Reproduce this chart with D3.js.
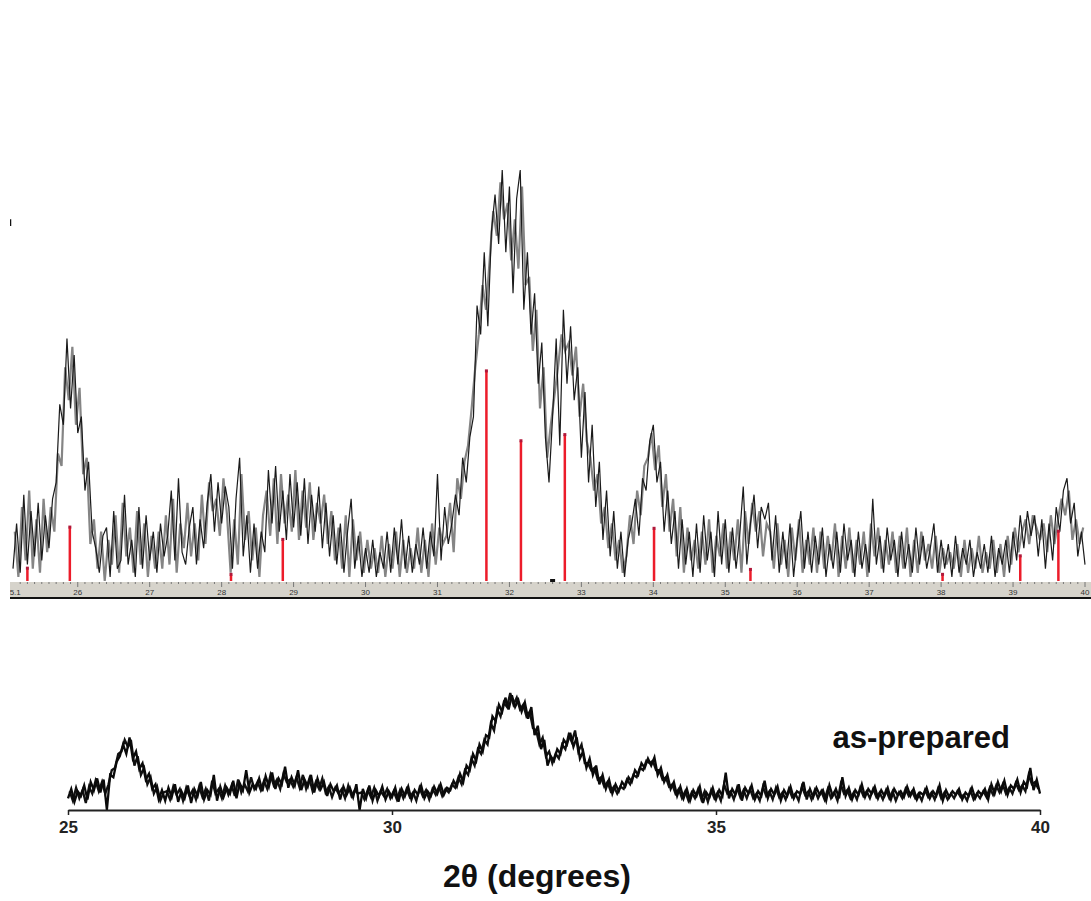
<!DOCTYPE html>
<html>
<head>
<meta charset="utf-8">
<script src="https://cdn.jsdelivr.net/npm/d3@7"></script>
<style>
    body { margin: 0; background: #fff; }
    svg { display: block; }
</style>
</head>
<body>
<div id="chart"></div>
<script>
// ---- data ----
// top pattern: intensity (arbitrary units), one value every 0.05 deg from 25.1 (black trace)
var topStart = 25.1, topStep = 0.05;
var topCounts = [
    3,14,2,21,4,17,6,19,5,16,
    8,20,24,43,38,59,42,55,36,40,
    22,29,12,8,2,11,13,1,17,3,
    5,21,4,10,1,18,3,16,5,12,
    2,14,6,11,22,5,25,7,4,13,
    18,4,15,8,19,26,12,24,14,23,
    18,3,20,30,6,16,2,14,3,12,
    7,27,14,28,12,22,10,26,13,24,
    11,25,9,21,12,23,8,19,6,16,
    4,14,2,12,20,3,11,1,8,2,
    10,1,7,3,12,2,13,4,15,3,
    11,2,9,4,13,3,12,6,26,5,
    18,9,14,21,16,30,24,35,40,67,
    60,80,62,85,94,82,100,80,96,70,
    93,100,66,80,60,70,48,58,35,24,
    40,59,33,66,48,62,44,52,30,46,
    24,38,18,29,10,22,6,17,3,12,
    1,10,14,20,11,25,22,34,38,24,
    29,12,22,9,17,3,15,4,12,1,
    14,2,16,5,12,1,17,4,15,2,
    13,3,11,23,4,14,21,8,18,15,
    19,5,16,2,12,3,14,1,10,17,
    3,12,2,11,4,13,1,9,3,12,
    2,14,5,10,1,12,3,9,2,20,
    4,11,2,13,5,10,1,12,3,9,
    2,13,4,11,3,8,14,2,10,3,
    9,1,11,2,8,4,10,1,7,3,
    9,2,11,1,8,4,10,2,12,5,
    16,8,17,11,16,6,15,3,14,5,
    18,12,22,25,14,19,6,12,4
];
// second (grey) trace of the top pattern, shifted half a step: from 25.125
var topStart2 = 25.125;
var topCounts2 = [
    12,1,18,5,22,3,15,2,20,7,
    18,12,31,28,52,44,57,38,47,26,
    30,9,15,3,12,0,10,4,16,2,
    19,6,13,2,17,4,14,1,11,3,
    12,3,16,4,20,2,14,8,19,6,
    14,5,21,9,24,17,20,11,25,16,
    2,15,4,26,10,17,5,13,1,16,
    22,11,25,9,26,14,21,12,27,10,
    22,13,24,10,19,14,21,9,17,5,
    13,3,16,1,15,5,12,2,10,3,
    8,2,11,1,9,3,12,1,10,2,
    8,3,13,2,10,1,14,4,13,9,
    11,19,7,25,20,29,33,42,52,60,
    72,66,78,90,84,97,88,92,78,88,
    76,96,72,74,56,66,42,52,30,38,
    45,52,60,56,58,50,57,40,48,34,
    30,22,26,14,18,8,14,5,10,2,
    6,16,9,22,16,28,30,36,27,33,
    18,26,12,20,6,18,2,13,5,10,
    3,12,4,15,2,11,6,14,3,12,
    5,15,2,17,9,19,12,17,6,14,
    12,3,14,4,10,1,13,5,15,2,
    10,4,13,2,12,3,11,5,14,1,
    11,3,13,2,10,4,12,1,14,6,
    13,3,10,4,12,2,11,3,13,1,
    10,2,12,5,9,3,11,2,8,4,
    7,3,9,1,10,2,8,3,11,2,
    7,3,10,2,9,1,11,4,13,7,
    12,15,9,16,13,10,14,7,16,9,
    15,20,16,22,10,15,9,13
];

// reference stick pattern (red lines)
var stickPos = [25.3, 25.89, 28.13, 28.85, 31.68, 32.16, 32.77, 34.01, 35.35, 38.02, 39.1, 39.63];
var stickInt = [3, 13, 1.5, 10, 51, 34, 35.5, 12.7, 2.7, 1.5, 6, 12];

// top axis tick labels
var topTicks = [25.1, 26, 27, 28, 29, 30, 31, 32, 33, 34, 35, 36, 37, 38, 39, 40];

// bottom pattern "as-prepared": one value every 0.05 deg from 25
var botStart = 25, botStep = 0.05;
var botCounts = [
    10,18,7,16,12,21,9,24,17,27,
    15,26,0,30,28,41,46,56,48,62,
    44,50,35,40,26,31,18,22,9,17,
    8,19,11,22,7,16,10,21,6,18,
    12,24,9,17,13,30,8,20,11,19,
    14,25,10,23,17,34,15,22,18,27,
    16,29,20,32,18,27,22,37,19,28,
    21,34,17,26,20,30,15,27,18,24,
    12,22,16,21,9,20,13,19,11,22,
    0,18,10,21,8,17,12,20,9,16,
    11,19,7,18,12,20,9,17,13,21,
    10,16,12,20,14,22,13,19,17,25,
    20,31,24,38,34,48,42,56,50,64,
    62,80,76,90,84,96,86,98,88,94,
    84,92,78,88,64,72,52,60,38,46,
    42,52,48,60,56,66,54,62,44,50,
    36,44,30,38,22,30,18,26,14,22,
    16,24,20,28,24,34,30,40,36,44,
    38,45,30,36,24,30,18,24,12,20,
    10,18,8,17,12,20,6,15,11,19,
    9,17,12,32,10,18,13,22,8,19,
    14,21,9,16,12,25,10,18,13,20,
    8,17,12,20,10,16,14,24,9,18,
    11,19,13,17,8,21,12,18,10,28,
    12,19,9,17,13,22,11,18,14,20,
    10,17,12,19,9,18,13,16,11,20,
    12,18,9,15,13,19,10,16,12,21,
    8,17,11,16,13,18,9,15,12,19,
    10,16,13,18,9,22,14,24,16,25,
    13,21,18,26,15,24,20,36,17,26,
    14
];
// in-between samples of the bottom pattern, from 25.025
var botStart2 = 25.025;
var botCounts2 = [
    16,8,19,10,17,6,20,14,25,16,
    24,14,22,34,36,48,50,60,54,58,
    38,46,30,36,22,28,14,20,8,15,
    16,9,20,13,18,8,19,12,17,9,
    20,11,18,8,25,14,18,10,21,13,
    21,12,26,15,22,16,28,18,24,17,
    25,18,30,21,26,18,31,24,26,20,
    28,19,30,18,27,16,24,18,27,15,
    20,11,19,14,18,10,21,12,17,14,
    15,9,17,11,19,8,16,12,18,10,
    16,9,17,10,18,11,15,8,19,12,
    17,9,18,13,20,12,18,15,22,19,
    28,22,34,30,44,38,52,48,60,56,
    74,68,86,80,92,88,100,90,96,86,
    90,80,84,70,68,56,62,46,50,40,
    48,44,56,52,64,58,68,50,56,40,
    40,34,36,26,28,20,24,16,20,14,
    20,18,26,22,30,28,36,34,42,40,
    42,34,34,26,28,20,22,14,18,10,
    16,8,15,10,18,9,16,7,17,10,
    15,8,22,14,16,9,19,11,17,10,
    18,10,14,8,20,12,16,9,19,11,
    15,9,18,11,14,8,20,13,16,9,
    17,10,16,9,18,10,15,8,22,14,
    17,10,15,9,19,12,16,10,18,11,
    15,9,17,10,16,8,15,10,18,12,
    16,10,14,8,17,11,15,9,18,10,
    15,9,14,10,16,11,13,8,17,9,
    14,10,16,11,19,13,21,15,22,14,
    19,14,23,17,21,16,30,22,24,18
];
var botTicks = [25, 30, 35, 40];

var sampleLabel = "as-prepared";
var xTitle = "2\u03b8 (degrees)";

// ---- drawing ----
var width = 1091, height = 901;

var svg = d3.select("#chart").append("svg")
    .attr("width", width)
    .attr("height", height)
    .style("background", "#fff");

// top panel (cut off at the left edge like the screenshot)
svg.append("clipPath").attr("id", "topclip")
    .append("rect").attr("x", 10).attr("y", 0).attr("width", width - 10).attr("height", 610);

var topG = svg.append("g").attr("clip-path", "url(#topclip)");

var xT = d3.scaleLinear().domain([25.1, 40]).range([13, 1085]);
var yT = d3.scaleLinear().domain([0, 100]).range([581, 170]);

// grey axis strip
topG.append("rect")
    .attr("x", 10).attr("y", 582)
    .attr("width", width - 10).attr("height", 15)
    .attr("fill", "#d6d3cb");
topG.append("line")
    .attr("x1", 10).attr("x2", width)
    .attr("y1", 598).attr("y2", 598)
    .attr("stroke", "#111").attr("stroke-width", 2);

// minor + major ticks along the strip
var minor = d3.range(252, 401).map(d => d / 10);
topG.selectAll(".minor")
    .data(minor)
    .join("line")
        .attr("class", "minor")
        .attr("x1", d => xT(d)).attr("x2", d => xT(d))
        .attr("y1", 582)
        .attr("y2", d => Math.abs(d - Math.round(d)) < 0.01 ? 587 : 584)
        .attr("stroke", "#777").attr("stroke-width", 1);

topG.selectAll(".ttl")
    .data(topTicks)
    .join("text")
        .attr("class", "ttl")
        .attr("x", d => xT(d))
        .attr("y", 595)
        .attr("text-anchor", "middle")
        .style("font", "8px 'Liberation Sans', Arial, sans-serif")
        .attr("fill", "#333")
        .text(d => d);

// measured pattern: grey trace under black trace
var lineT = d3.line()
    .x((d, i) => xT(topStart + i * topStep))
    .y(d => yT(d));
var lineT2 = d3.line()
    .x((d, i) => xT(topStart2 + i * topStep))
    .y(d => yT(d));

topG.append("path")
    .datum(topCounts2)
    .attr("fill", "none")
    .attr("stroke", "#858585")
    .attr("stroke-width", 2.2)
    .attr("d", lineT2);
topG.append("path")
    .datum(topCounts)
    .attr("fill", "none")
    .attr("stroke", "#1a1a1a")
    .attr("stroke-width", 1.2)
    .attr("d", lineT);

// reference sticks
var sticks = stickPos.map((p, i) => [p, stickInt[i]]);
topG.selectAll(".stick")
    .data(sticks)
    .join("line")
        .attr("class", "stick")
        .attr("x1", d => xT(d[0])).attr("x2", d => xT(d[0]))
        .attr("y1", yT(0)).attr("y2", d => yT(d[1]))
        .attr("stroke", "#ec1c2a")
        .attr("stroke-width", 2.5);
topG.selectAll(".stickdot")
    .data(sticks)
    .join("rect")
        .attr("class", "stickdot")
        .attr("x", d => xT(d[0]) - 1.5)
        .attr("y", d => yT(d[1]) - 2)
        .attr("width", 3).attr("height", 3)
        .attr("fill", "#b0183a");

// small black marker near 32.6
topG.append("rect")
    .attr("x", xT(32.6) - 2.5).attr("y", yT(0) - 2)
    .attr("width", 5).attr("height", 3)
    .attr("fill", "#111");

// remnant of the left axis
topG.append("line")
    .attr("x1", 10.5).attr("x2", 10.5)
    .attr("y1", yT(88)).attr("y2", yT(86.4))
    .attr("stroke", "#111").attr("stroke-width", 1.5);

// bottom panel
var xB = d3.scaleLinear().domain([25, 40]).range([68, 1040]);
var yB = d3.scaleLinear().domain([0, 100]).range([810, 693]);

var lineB = d3.line()
    .x((d, i) => xB(botStart + i * botStep))
    .y(d => yB(d));
var lineB2 = d3.line()
    .x((d, i) => xB(botStart2 + i * botStep))
    .y(d => yB(d));

svg.append("path")
    .datum(botCounts2)
    .attr("fill", "none")
    .attr("stroke", "#111")
    .attr("stroke-width", 2.3)
    .attr("d", lineB2);
svg.append("path")
    .datum(botCounts)
    .attr("fill", "none")
    .attr("stroke", "#0a0a0a")
    .attr("stroke-width", 2.3)
    .attr("d", lineB);

var axB = svg.append("g")
    .attr("transform", "translate(0,810)")
    .call(d3.axisBottom(xB).tickValues(botTicks).tickSize(5).tickPadding(6).tickSizeOuter(0));
axB.select(".domain").attr("stroke", "#222").attr("stroke-width", 2);
axB.selectAll(".tick line").attr("stroke", "#222").attr("stroke-width", 1.5);
axB.selectAll(".tick text")
    .attr("fill", "#222")
    .style("font", "bold 17px 'Liberation Sans', Arial, sans-serif");

svg.append("text")
    .attr("x", 1010)
    .attr("y", 748)
    .attr("text-anchor", "end")
    .style("font", "bold 31px 'Liberation Sans', Arial, sans-serif")
    .attr("fill", "#111")
    .text(sampleLabel);

svg.append("text")
    .attr("x", 537)
    .attr("y", 887)
    .attr("text-anchor", "middle")
    .style("font", "bold 32px 'Liberation Sans', Arial, sans-serif")
    .attr("fill", "#111")
    .text(xTitle);
</script>
</body>
</html>
